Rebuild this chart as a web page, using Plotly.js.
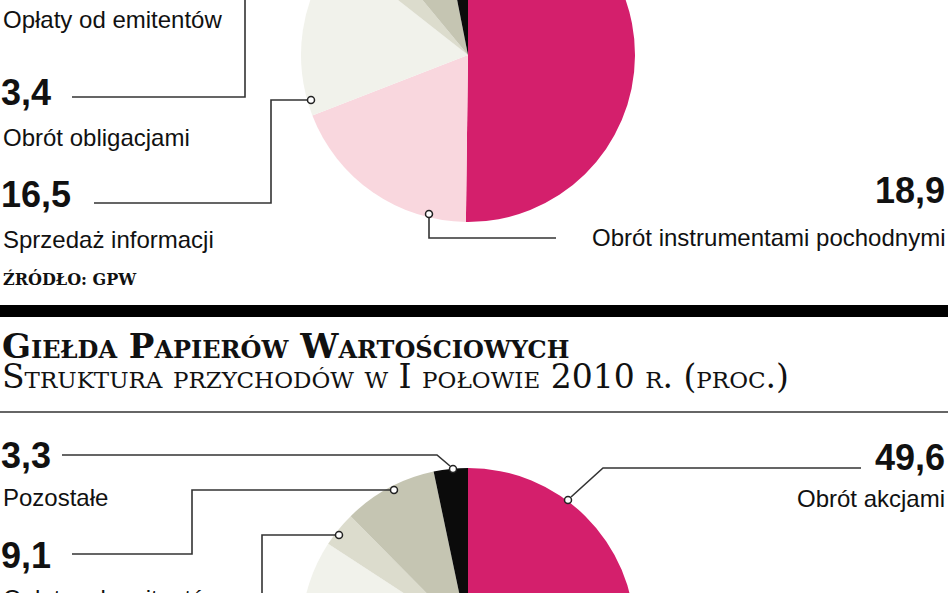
<!DOCTYPE html>
<html>
<head>
<meta charset="utf-8">
<script src="https://cdn.plot.ly/plotly-3.0.1.min.js"></script>
<style>
  html, body { margin: 0; padding: 0; overflow: hidden; background: #fff; }
  /* the two pies run past the top and bottom edge of the picture,
     so the plot is taller than the window and shifted up */
  #chart { position: absolute; left: 0; top: -140px; width: 948px; height: 960px; }
</style>
</head>
<body>
<div id="chart"></div>
<script>
// slices, clockwise from 12 o'clock
const categories = [
    'Obrót akcjami',
    'Obrót instrumentami pochodnymi',
    'Sprzedaż informacji',
    'Obrót obligacjami',
    'Opłaty od emitentów',
    'Pozostałe'
];
const valuesTop = [50.2, 18.9, 16.5, 3.4, 7.9, 3.1];        // earlier period (upper chart)
const valuesBottom = [49.6, 17.6, 17.0, 3.4, 9.1, 3.3];     // I połowa 2010
const sliceColors = ['#d41f6c', '#f9d7de', '#f1f2eb', '#dcdccd', '#c5c5b2', '#0b0b0b'];

const W = 948, H = 960, TOP = -140;
const px = x => x / W;
const py = y => 1 - (y - TOP) / H;

const fmt = v => v.toFixed(1).replace('.', ',');

const NUM_FONT = { family: 'Liberation Sans, sans-serif', size: 36, weight: 700, color: '#111' };
const LBL_FONT = { family: 'Liberation Sans, sans-serif', size: 24, color: '#111' };
const LINE = { color: '#333', width: 1.6 };

function pieTrace(values, cy) {
    const r = 167, cx = 468;
    return {
        type: 'pie',
        labels: categories,
        values: values,
        marker: { colors: sliceColors, line: { width: 0 } },
        sort: false,
        direction: 'clockwise',
        rotation: 0,
        textinfo: 'none',
        hoverinfo: 'skip',
        showlegend: false,
        domain: {
            x: [px(cx - r), px(cx + r)],
            y: [py(cy + r), py(cy - r)]
        }
    };
}

function ann(text, x, y, font, xanchor = 'left') {
    return { text, x: px(x), y: py(y), xref: 'paper', yref: 'paper',
             xanchor, yanchor: 'middle', showarrow: false, font };
}

function leader(points) {
    const d = points.map((p, i) => (i ? 'L ' : 'M ') + px(p[0]) + ' ' + py(p[1])).join(' ');
    return { type: 'path', path: d, xref: 'paper', yref: 'paper', line: LINE };
}

function dot(x, y) {
    return { type: 'circle', xref: 'paper', yref: 'paper',
             xsizemode: 'pixel', ysizemode: 'pixel',
             xanchor: px(x), yanchor: py(y), x0: -3.5, x1: 3.5, y0: -3.5, y1: 3.5,
             fillcolor: '#fff', line: { color: '#222', width: 1.5 } };
}

const traces = [pieTrace(valuesTop, 55), pieTrace(valuesBottom, 635)];

const header = '<span style="font-weight:bold;font-size:34px">Giełda Papierów Wartościowych</span><br>' +
               '<span style="font-size:33px">Struktura przychodów w I połowie 2010 r. (proc.)</span>';

const annotations = [
    // upper chart
    ann(categories[4], 1, 20, LBL_FONT),
    ann(fmt(valuesTop[3]), -1, 92, NUM_FONT),
    ann(categories[3], 1, 137, LBL_FONT),
    ann(fmt(valuesTop[2]), -1, 194, NUM_FONT),
    ann(categories[2], 1, 239, LBL_FONT),
    ann(fmt(valuesTop[1]), 947, 190, NUM_FONT, 'right'),
    ann(categories[1], 947, 237, LBL_FONT, 'right'),
    ann('źródło: GPW', 1, 276, { family: 'DejaVu Serif, serif', size: 23, weight: 700, variant: 'all-small-caps', color: '#111' }),
    // header of lower chart
    { text: header, x: px(0), y: py(361), xref: 'paper', yref: 'paper', xanchor: 'left', yanchor: 'middle',
      align: 'left', showarrow: false,
      font: { family: 'DejaVu Serif, serif', size: 23, variant: 'small-caps', color: '#111' } },
    // lower chart
    ann(fmt(valuesBottom[5]), -1, 455, NUM_FONT),
    ann(categories[5], 1, 497, LBL_FONT),
    ann(fmt(valuesBottom[4]), -1, 555, NUM_FONT),
    ann(categories[4], 1, 598, LBL_FONT),
    ann(fmt(valuesBottom[0]), 947, 457, NUM_FONT, 'right'),
    ann(categories[0], 947, 498, LBL_FONT, 'right')
];

const shapes = [
    // upper chart leaders
    leader([[72, 97], [245, 97], [245, -5]]),
    leader([[94, 203], [271, 203], [271, 100], [307, 100]]),
    dot(311, 100),
    leader([[429, 218], [429, 238], [556, 238]]),
    dot(429, 214),
    // separators
    { type: 'rect', xref: 'paper', yref: 'paper', x0: 0, x1: 1, y0: py(317), y1: py(305),
      fillcolor: '#000', line: { width: 0 } },
    { type: 'line', xref: 'paper', yref: 'paper', x0: 0, x1: 1, y0: py(412), y1: py(412),
      line: { color: '#333', width: 1.5 } },
    // lower chart leaders
    leader([[62, 455], [437, 455], [450, 466]]),
    dot(453, 469),
    leader([[390, 490], [192, 490], [192, 554], [72, 554]]),
    dot(394, 490),
    leader([[335, 535], [262, 535], [262, 600]]),
    dot(339, 535),
    leader([[861, 468], [603, 468], [571, 497]]),
    dot(568, 500)
];

const layout = {
    width: W,
    height: H,
    margin: { l: 0, r: 0, t: 0, b: 0 },
    paper_bgcolor: '#fff',
    plot_bgcolor: '#fff',
    showlegend: false,
    annotations,
    shapes
};

Plotly.newPlot('chart', traces, layout, { displayModeBar: false, staticPlot: true });
</script>
</body>
</html>
